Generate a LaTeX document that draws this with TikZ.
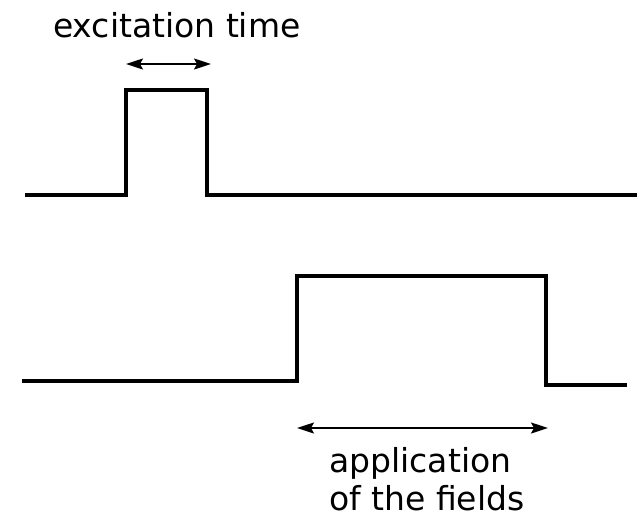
\documentclass[tikz,border=0pt]{standalone}
\usepackage{fontspec}
\setmainfont{DejaVu Sans}
\usetikzlibrary{arrows.meta}
\begin{document}
\begin{tikzpicture}[x=1pt,y=-1pt,
  signal/.style={line width=3.2pt,line join=miter},
  durarrow/.style={line width=1.6pt,{Stealth[length=17pt,width=11pt,inset=3pt]}-{Stealth[length=17pt,width=11pt,inset=3pt]}},
  caption/.style={anchor=base west,inner sep=0pt,font=\fontsize{33}{40}\selectfont}]
\useasboundingbox (0,0) rectangle (643,515);
% excitation pulse
\draw[signal] (25,195) -- (126,195) -- (126,90) -- (207,90) -- (207,195) -- (637,195);
% field pulse
\draw[signal] (22,381) -- (297,381) -- (297,276) -- (546,276) -- (546,385) -- (627,385);
% durations
\coordinate (ea) at (126,64);
\coordinate (eb) at (211,64);
\draw[durarrow] (ea) -- (eb);
\coordinate (fa) at (297,428);
\coordinate (fb) at (548,428);
\draw[durarrow] (fa) -- (fb);
% labels
\node[caption] (lexc) at (53,37) {excitation time};
\node[caption] (lapp) at (329,472) {application};
\node[caption] (lfld) at (329,510) {of the fields};
\end{tikzpicture}
\end{document}
